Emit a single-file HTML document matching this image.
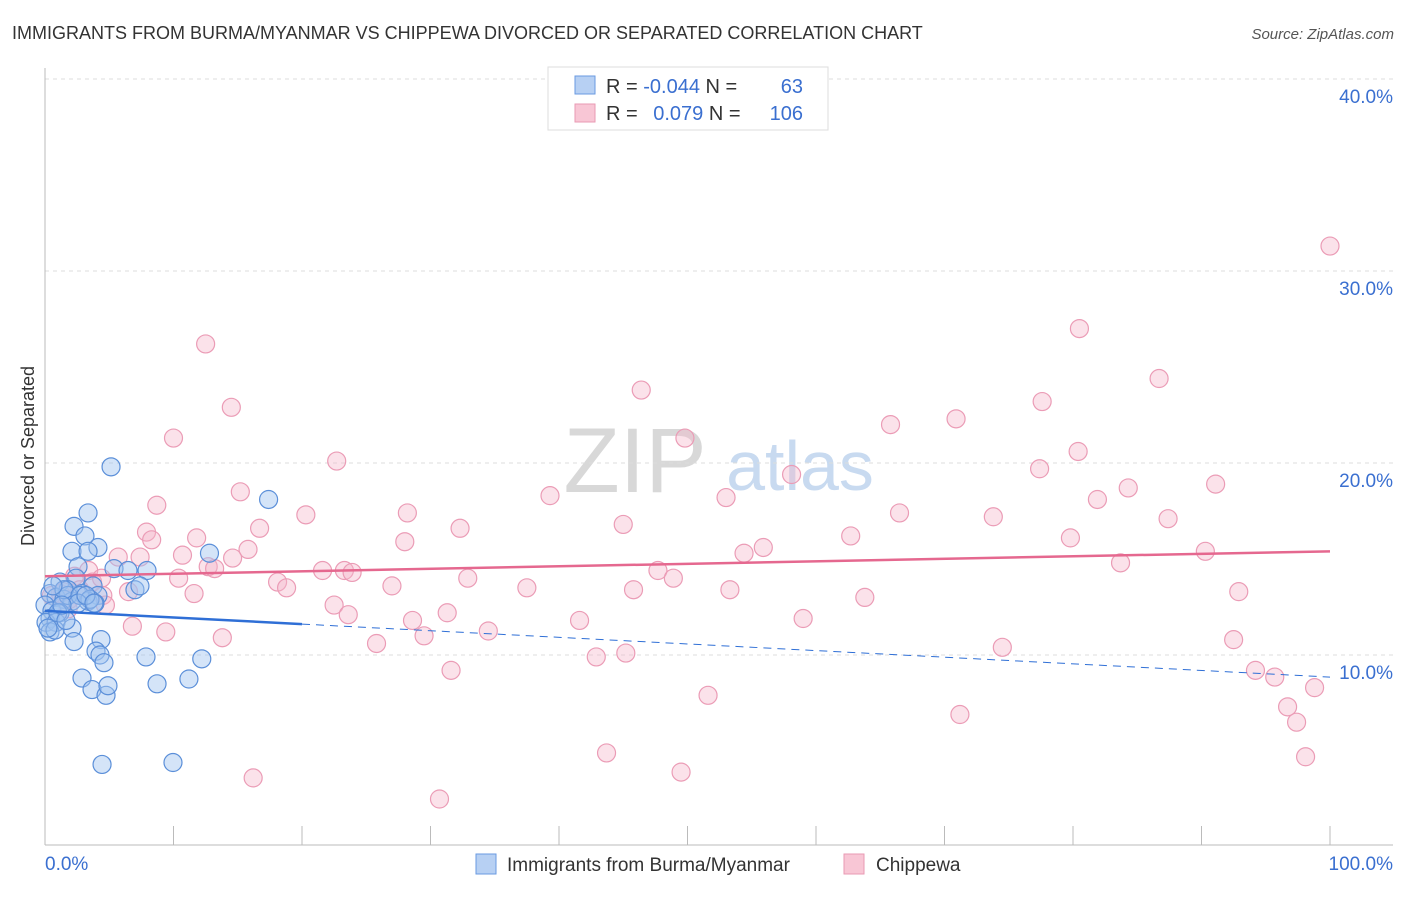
<!DOCTYPE html>
<html><head><meta charset="utf-8"><style>
body{margin:0;background:#fff;font-family:"Liberation Sans",sans-serif;}
svg text{font-family:"Liberation Sans",sans-serif;}
</style></head><body>
<svg id="c" width="1406" height="892" xmlns="http://www.w3.org/2000/svg">
<text x="12" y="39" font-size="18" fill="#333">IMMIGRANTS FROM BURMA/MYANMAR VS CHIPPEWA DIVORCED OR SEPARATED CORRELATION CHART</text>
<text x="1394" y="39" font-size="15" fill="#555" font-style="italic" text-anchor="end">Source: ZipAtlas.com</text>
<g>
<text x="635" y="492" font-size="92" fill="#d8d8d8" font-family="Liberation Serif,serif" text-anchor="middle">ZIP</text>
<text x="800" y="490" font-size="70" fill="#c8daf0" text-anchor="middle">atlas</text>
</g>
<g id="grid"></g><g id="axes"></g><g id="pts"></g><g id="trend"></g>
<text transform="translate(34,456) rotate(-90)" font-size="18" fill="#333" text-anchor="middle">Divorced or Separated</text>
<g>
<rect x="548" y="67" width="280" height="63" fill="#fff" stroke="#ddd"/>
<rect x="575" y="76" width="20" height="18" fill="#b7d0f3" stroke="#6a9ae0"/>
<rect x="575" y="104" width="20" height="18" fill="#f8c6d5" stroke="#e99ab3"/>
<text x="606" y="93" font-size="20" fill="#333">R = <tspan fill="#3a6fd0">-0.044</tspan>   N = </text><text x="803" y="93" font-size="20" fill="#3a6fd0" text-anchor="end">63</text>
<text x="606" y="120" font-size="20" fill="#333">R = <tspan fill="#3a6fd0" dx="10">0.079</tspan>   N = </text><text x="803" y="120" font-size="20" fill="#3a6fd0" text-anchor="end">106</text>
</g>
<g>
<rect x="476" y="854" width="20" height="20" fill="#b7d0f3" stroke="#6a9ae0"/>
<text x="507" y="871" font-size="19" fill="#333">Immigrants from Burma/Myanmar</text>
<rect x="844" y="854" width="20" height="20" fill="#f8c6d5" stroke="#e99ab3"/>
<text x="876" y="871" font-size="19" fill="#333">Chippewa</text>
</g>
</svg>
<script>
const xTicks=[0,10,20,30,40,50,60,70,80,90,100];
const yTicks=[10,20,30,40];
const blueX=[5.14,17.4,3.35,2.26,3.11,4.12,2.1,3.35,12.8,5.37,6.46,7.94,2.57,1.17,2.41,3.74,7.0,1.79,2.88,4.12,0.39,0.86,1.48,2.1,3.35,3.89,0,0.54,1.17,1.79,0.39,0.08,0.86,2.1,0.39,0.78,2.26,4.36,3.97,4.28,4.59,7.86,12.2,2.88,8.72,11.2,3.66,4.75,4.9,4.44,9.96,1.0,0.23,1.48,2.72,3.5,0.62,1.63,2.57,1.32,7.39,3.19,3.81];
const blueY=[19.8,18.1,17.4,16.7,16.2,15.6,15.4,15.4,15.3,14.5,14.4,14.4,14.6,13.8,14.0,13.6,13.4,13.4,13.2,13.1,13.2,13.0,12.9,12.8,12.8,12.7,12.6,12.3,12.2,13.1,11.9,11.7,11.7,11.4,11.2,11.3,10.7,10.8,10.2,10.0,9.6,9.9,9.8,8.8,8.5,8.75,8.2,7.9,8.4,4.3,4.4,12.2,11.4,13.4,13.1,12.9,13.6,11.8,12.7,12.6,13.6,13.1,12.7];
const pinkX=[100,80.5,12.5,46.4,86.7,14.5,77.6,65.8,70.9,10.0,49.8,22.7,80.4,77.4,58.1,39.3,15.2,8.7,53.0,84.3,91.1,81.9,66.5,28.2,20.3,73.8,87.4,32.3,45.0,16.7,7.9,11.8,8.3,62.7,79.8,28.0,15.8,55.9,54.4,90.3,5.7,10.7,7.4,14.6,12.7,13.2,83.7,21.6,47.7,48.9,23.3,23.9,32.9,10.4,18.1,3.4,2.3,3.7,4.4,18.8,27.0,37.5,45.8,53.3,92.9,6.5,11.6,4.5,63.8,1.2,1.9,4.7,22.5,23.6,31.3,41.6,59.0,28.6,6.8,9.4,34.5,13.8,29.5,25.8,92.5,74.5,45.2,42.9,94.2,95.7,31.6,98.8,51.6,96.7,97.4,71.2,43.7,98.1,49.5,16.2,30.7,0.5,1.4,2.7,1.8];
const pinkY=[31.3,27.0,26.2,23.8,24.4,22.9,23.2,22.0,22.3,21.3,21.3,20.1,20.6,19.7,19.4,18.3,18.5,17.8,18.2,18.7,18.9,18.1,17.4,17.4,17.3,17.2,17.1,16.6,16.8,16.6,16.4,16.1,16.0,16.2,16.1,15.9,15.5,15.6,15.3,15.4,15.1,15.2,15.1,15.05,14.6,14.5,14.8,14.4,14.4,14.0,14.4,14.3,14.0,14.0,13.8,14.4,14.1,13.8,14.0,13.5,13.6,13.5,13.4,13.4,13.3,13.3,13.2,13.1,13.0,13.2,12.9,12.6,12.6,12.1,12.2,11.8,11.9,11.8,11.5,11.2,11.25,10.9,11.0,10.6,10.8,10.4,10.1,9.9,9.2,8.85,9.2,8.3,7.9,7.3,6.5,6.9,4.9,4.7,3.9,3.6,2.5,13.1,13.3,13.4,12.4];
const blueTrend=[12.3,8.85]; // y at x=0 and x=100
const pinkTrend=[14.1,15.4];
const X=v=>45+v*12.85, Y=v=>847-v*19.2;
const NS='http://www.w3.org/2000/svg';
function mk(p,t,a){const e=document.createElementNS(NS,t);for(const k in a)e.setAttribute(k,a[k]);document.getElementById(p).appendChild(e);return e;}
yTicks.forEach(v=>{
 const l=mk('grid','line',{x1:45,x2:1393,y1:Y(v),y2:Y(v),stroke:'#ddd','stroke-dasharray':'4,4'});
 
 
 const t=mk('grid','text',{x:1393,y:Y(v)+24,'font-size':19,fill:'#3a6fd0','text-anchor':'end'});t.textContent=v.toFixed(1)+'%';
 
 
});
let a=mk('axes','line',{x1:45,x2:45,y1:68,y2:845,stroke:'#bbb'});


a=mk('axes','line',{x1:45,x2:1393,y1:845,y2:845,stroke:'#bbb'});


xTicks.forEach(v=>{const l=mk('axes','line',{x1:X(v),x2:X(v),y1:826,y2:845,stroke:'#bbb'});
 
 });
[[0,'start'],[100,'end']].forEach(([v,an])=>{const t=mk('axes','text',{x:v==0?45:1393,y:870,'font-size':19,fill:'#3a6fd0','text-anchor':an});t.textContent=v.toFixed(1)+'%';
 
 });
pinkX.forEach((x,i)=>{const c=mk('pts','circle',{cx:X(x),cy:Y(pinkY[i]),r:9,fill:'rgba(246,182,202,0.4)',stroke:'#eb9cb6','stroke-width':1.2});
 
 });
blueX.forEach((x,i)=>{const c=mk('pts','circle',{cx:X(x),cy:Y(blueY[i]),r:9,fill:'rgba(160,196,240,0.45)',stroke:'#5b8fd9','stroke-width':1.2});
 
 });
const by=x=>blueTrend[0]+(blueTrend[1]-blueTrend[0])*x/100;
let t1=mk('trend','line',{x1:X(0),y1:Y(by(0)),x2:X(20),y2:Y(by(20)),stroke:'#2f6fd6','stroke-width':2.5});


t1=mk('trend','line',{x1:X(20),y1:Y(by(20)),x2:X(100),y2:Y(by(100)),stroke:'#2f6fd6','stroke-width':1,'stroke-dasharray':'8,6'});


t1=mk('trend','line',{x1:X(0),y1:Y(pinkTrend[0]),x2:X(100),y2:Y(pinkTrend[1]),stroke:'#e5688f','stroke-width':2.5});


</script>
</body></html>
